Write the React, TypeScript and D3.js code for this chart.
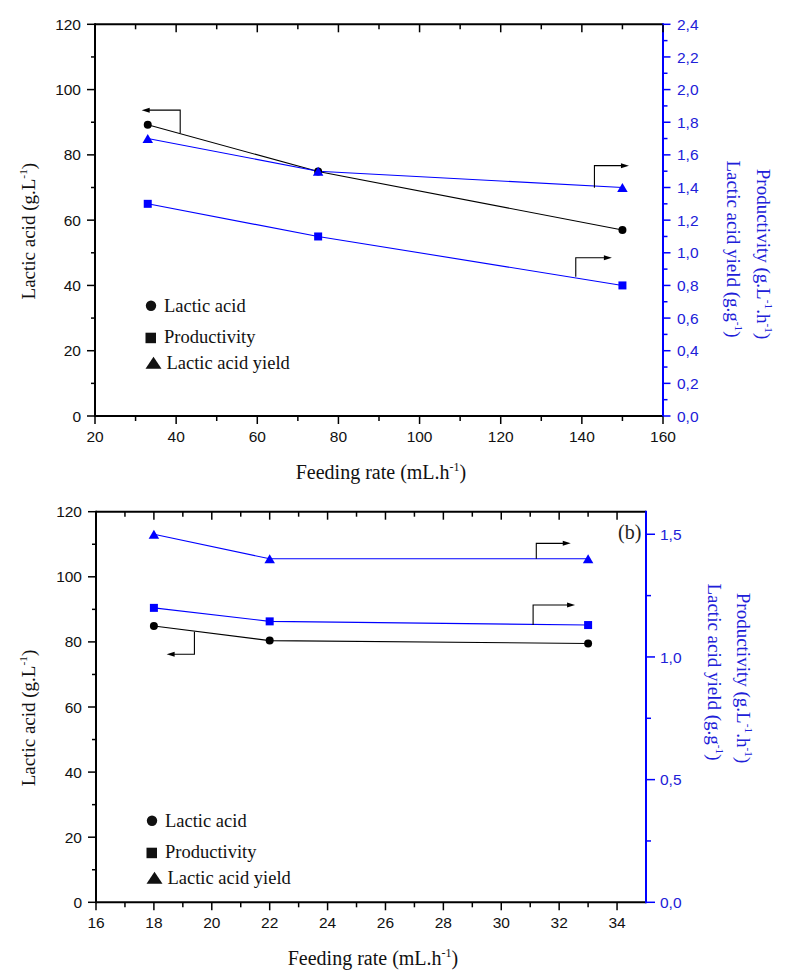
import React from "react";
import * as d3 from "d3";

// ---------- data ----------
const topFeed = [33, 75, 150];
const topLactic = [89.2, 74.9, 57];
const topProductivity = [1.3, 1.1, 0.8];
const topYield = [1.7, 1.5, 1.4];

const botFeed = [18, 22, 33];
const botLactic = [84.9, 80.4, 79.5];
const botProductivity = [1.2, 1.145, 1.13];
const botYield = [1.5, 1.4, 1.4];

const topXTicks = [20, 40, 60, 80, 100, 120, 140, 160];
const topXMinor = [30, 50, 70, 90, 110, 130, 150];
const leftTicks = [0, 20, 40, 60, 80, 100, 120];
const leftMinor = [10, 30, 50, 70, 90, 110];
const topRightTicks = [0, 0.2, 0.4, 0.6, 0.8, 1.0, 1.2, 1.4, 1.6, 1.8, 2.0, 2.2, 2.4];
const topRightMinor = [0.1, 0.3, 0.5, 0.7, 0.9, 1.1, 1.3, 1.5, 1.7, 1.9, 2.1, 2.3];

const botXTicks = [16, 18, 20, 22, 24, 26, 28, 30, 32, 34];
const botXMinor = [17, 19, 21, 23, 25, 27, 29, 31, 33];
const botRightTicks = [0, 0.5, 1.0, 1.5];
const botRightMinor = [0.25, 0.75, 1.25];

const legendLabels = ["Lactic acid", "Productivity", "Lactic acid yield"];

// annotation arrows (data units): vertical at x from y0 (on line) to y1, then horizontal to tip
type Arrow = { axis: "left" | "right"; x: number; y0: number; y1: number; tip: number };
const topArrows: Arrow[] = [
  { axis: "left", x: 41, y0: 86.6, y1: 93.7, tip: 31.5 },
  { axis: "right", x: 143.1, y0: 1.399, y1: 1.534, tip: 151.6 },
  { axis: "right", x: 138.5, y0: 0.853, y1: 0.97, tip: 147.4 },
];
const botArrows: Arrow[] = [
  { axis: "left", x: 19.4, y0: 83.1, y1: 76.2, tip: 18.44 },
  { axis: "right", x: 31.21, y0: 1.4, y1: 1.463, tip: 32.4 },
  { axis: "right", x: 31.1, y0: 1.13, y1: 1.212, tip: 32.55 },
];

// ---------- style ----------
const BLUE = "#0000ff";
const BLUE_TEXT = "#2020d8";
const SERIF = "'Liberation Serif','Times New Roman',serif";
const SANS = "'Liberation Sans',Arial,sans-serif";

type Part = { t: string; sup?: boolean };

function RichText({ parts, size }: { parts: Part[]; size: number }) {
  const out: React.ReactNode[] = [];
  parts.forEach((p, i) => {
    if (p.sup) {
      out.push(
        <tspan key={i} dy={-size * 0.42} fontSize={size * 0.6}>
          {p.t}
        </tspan>
      );
    } else {
      const prevSup = i > 0 && parts[i - 1].sup;
      out.push(
        <tspan key={i} dy={prevSup ? size * 0.42 : 0}>
          {p.t}
        </tspan>
      );
    }
  });
  return <>{out}</>;
}

const leftTitle: Part[] = [{ t: "Lactic acid (g.L" }, { t: "-1", sup: true }, { t: ")" }];
const xTitle: Part[] = [{ t: "Feeding rate (mL.h" }, { t: "-1", sup: true }, { t: ")" }];
const prodTitle: Part[] = [
  { t: "Productivity (g.L" },
  { t: "-1", sup: true },
  { t: ".h" },
  { t: "-1", sup: true },
  { t: ")" },
];
const yieldTitle: Part[] = [{ t: "Lactic acid yield (g.g" }, { t: "-1", sup: true }, { t: ")" }];

type PanelProps = {
  left: number;
  right: number;
  top: number;
  bottom: number;
  xDomain: [number, number];
  xTicks: number[];
  xMinor: number[];
  rightDomain: [number, number];
  rightTicks: number[];
  rightMinor: number[];
  rightMajorLen: number;
  rightMinorLen: number;
  feed: number[];
  lactic: number[];
  prod: number[];
  yld: number[];
  arrows: Arrow[];
  legendBase: number;
  prodTitleX: number;
  yieldTitleX: number;
  prodTitleCY: number;
  yieldTitleCY: number;
  tag?: string;
};

function Panel(p: PanelProps) {
  const x = d3.scaleLinear().domain(p.xDomain).range([p.left, p.right]);
  const yL = d3.scaleLinear().domain([0, 120]).range([p.bottom, p.top]);
  const yR = d3.scaleLinear().domain(p.rightDomain).range([p.bottom, p.top]);
  const fmtR = (v: number) => d3.format(".1f")(v).replace(".", ",");

  const lineL = d3
    .line<number>()
    .x((_, i) => x(p.feed[i]))
    .y((d) => yL(d));
  const lineR = d3
    .line<number>()
    .x((_, i) => x(p.feed[i]))
    .y((d) => yR(d));

  const tri = (cx: number, cy: number, w: number, h: number) =>
    `${cx - w / 2},${cy + h / 2} ${cx + w / 2},${cy + h / 2} ${cx},${cy - h / 2}`;

  const cy = (p.top + p.bottom) / 2;
  const legX = p.left + 56;
  const legRows = [0, 31, 57];

  return (
    <g>
      {/* data lines */}
      <path d={lineL(p.lactic) || ""} fill="none" stroke="#000" strokeWidth={1.1} />
      <path d={lineR(p.prod) || ""} fill="none" stroke={BLUE} strokeWidth={1.1} />
      <path d={lineR(p.yld) || ""} fill="none" stroke={BLUE} strokeWidth={1.1} />

      {/* markers */}
      {p.feed.map((f, i) => (
        <circle key={"c" + i} cx={x(f)} cy={yL(p.lactic[i])} r={4} fill="#000" />
      ))}
      {p.feed.map((f, i) => (
        <g key={"m" + i}>
          <rect x={x(f) - 4} y={yR(p.prod[i]) - 4} width={8} height={8} fill={BLUE} />
          <polygon points={tri(x(f), yR(p.yld[i]), 10.5, 9)} fill={BLUE} />
        </g>
      ))}

      {/* arrows */}
      {p.arrows.map((a, i) => {
        const ys = a.axis === "left" ? yL : yR;
        const ax = x(a.x);
        const ay0 = ys(a.y0);
        const ay1 = ys(a.y1);
        const tx = x(a.tip);
        const dir = tx > ax ? 1 : -1;
        return (
          <g key={"a" + i}>
            <path
              d={`M${ax},${ay0}V${ay1}H${tx - dir * 6}`}
              fill="none"
              stroke="#000"
              strokeWidth={1.1}
            />
            <polygon
              points={`${tx},${ay1} ${tx - dir * 8},${ay1 - 2.5} ${tx - dir * 8},${ay1 + 2.5}`}
              fill="#000"
            />
          </g>
        );
      })}

      {/* frame */}
      <line x1={p.left} x2={p.right} y1={p.top} y2={p.top} stroke="#000" strokeWidth={2} />
      <line x1={p.left} x2={p.right} y1={p.bottom} y2={p.bottom} stroke="#000" strokeWidth={2} />
      <line x1={p.left} x2={p.left} y1={p.top - 1} y2={p.bottom + 1} stroke="#000" strokeWidth={2} />
      <line x1={p.right} x2={p.right} y1={p.top - 1} y2={p.bottom + 1} stroke={BLUE} strokeWidth={2} />

      {/* x ticks bottom (outward) and top (inward) */}
      {p.xTicks.map((t) => (
        <g key={"xt" + t}>
          <line x1={x(t)} x2={x(t)} y1={p.bottom} y2={p.bottom + 8} stroke="#000" strokeWidth={1.5} />
          {t !== p.xDomain[0] && (
            <line x1={x(t)} x2={x(t)} y1={p.top} y2={p.top + 8} stroke="#000" strokeWidth={1.5} />
          )}
          <text
            x={x(t)}
            y={p.bottom + 26}
            textAnchor="middle"
            fontFamily={SANS}
            fontSize={15.5}
            fill="#111"
          >
            {t}
          </text>
        </g>
      ))}
      {p.xMinor.map((t) => (
        <g key={"xm" + t}>
          <line x1={x(t)} x2={x(t)} y1={p.bottom} y2={p.bottom + 5} stroke="#000" strokeWidth={1.5} />
          <line x1={x(t)} x2={x(t)} y1={p.top} y2={p.top + 5} stroke="#000" strokeWidth={1.5} />
        </g>
      ))}

      {/* left ticks */}
      {leftTicks.map((t) => (
        <g key={"lt" + t}>
          <line x1={p.left - 8} x2={p.left} y1={yL(t)} y2={yL(t)} stroke="#000" strokeWidth={1.5} />
          <text
            x={p.left - 14}
            y={yL(t)}
            dy="0.36em"
            textAnchor="end"
            fontFamily={SANS}
            fontSize={15.5}
            fill="#111"
          >
            {t}
          </text>
        </g>
      ))}
      {leftMinor.map((t) => (
        <line key={"lm" + t} x1={p.left - 4} x2={p.left} y1={yL(t)} y2={yL(t)} stroke="#000" strokeWidth={1.5} />
      ))}

      {/* right ticks */}
      {p.rightTicks.map((t) => (
        <g key={"rt" + t}>
          <line
            x1={p.right}
            x2={p.right + p.rightMajorLen}
            y1={yR(t)}
            y2={yR(t)}
            stroke={BLUE}
            strokeWidth={1.5}
          />
          <text
            x={p.right + 14}
            y={yR(t)}
            dy="0.36em"
            textAnchor="start"
            fontFamily={SANS}
            fontSize={15.5}
            fill={BLUE_TEXT}
          >
            {fmtR(t)}
          </text>
        </g>
      ))}
      {p.rightMinor.map((t) => (
        <line
          key={"rm" + t}
          x1={p.right}
          x2={p.right + p.rightMinorLen}
          y1={yR(t)}
          y2={yR(t)}
          stroke={BLUE}
          strokeWidth={1.5}
        />
      ))}

      {/* axis titles */}
      <text
        transform={`translate(35,${cy + 11}) rotate(-90)`}
        textAnchor="middle"
        fontFamily={SERIF}
        fontSize={19}
        fill="#111"
      >
        <RichText parts={leftTitle} size={19} />
      </text>
      <text
        x={(p.left + p.right) / 2 + 2}
        y={p.bottom + 63}
        textAnchor="middle"
        fontFamily={SERIF}
        fontSize={20}
        fill="#111"
      >
        <RichText parts={xTitle} size={20} />
      </text>
      <text
        transform={`translate(${p.prodTitleX},${p.prodTitleCY}) rotate(90)`}
        textAnchor="middle"
        fontFamily={SERIF}
        fontSize={19}
        fill={BLUE_TEXT}
      >
        <RichText parts={prodTitle} size={19} />
      </text>
      <text
        transform={`translate(${p.yieldTitleX},${p.yieldTitleCY}) rotate(90)`}
        textAnchor="middle"
        fontFamily={SERIF}
        fontSize={19}
        fill={BLUE_TEXT}
      >
        <RichText parts={yieldTitle} size={19} />
      </text>

      {/* legend */}
      {legendLabels.map((lab, i) => {
        const by = p.legendBase + legRows[i];
        return (
          <g key={"lg" + i}>
            {i === 0 && <circle cx={legX} cy={by - 6} r={5.2} fill="#111" />}
            {i === 1 && <rect x={legX - 5.5} y={by - 10} width={10.5} height={10.5} fill="#111" />}
            {i === 2 && <polygon points={tri(legX + 2.5, by - 6, 16, 12)} fill="#111" />}
            <text x={legX + 13 + (i === 2 ? 2.5 : 0)} y={by} fontFamily={SERIF} fontSize={18.5} fill="#111">
              {lab}
            </text>
          </g>
        );
      })}

      {p.tag && (
        <text x={p.right - 28} y={p.top + 27} fontFamily={SERIF} fontSize={20} fill="#222">
          {p.tag}
        </text>
      )}
    </g>
  );
}

export default function App() {
  return (
    <svg
      width={787}
      height={973}
      viewBox="0 0 787 973"
      style={{ position: "absolute", left: 0, top: 0, background: "#fff" }}
    >
      <rect x={0} y={0} width={787} height={973} fill="#fff" />
      <Panel
        left={95}
        right={663}
        top={24.3}
        bottom={416}
        xDomain={[20, 160]}
        xTicks={topXTicks}
        xMinor={topXMinor}
        rightDomain={[0, 2.4]}
        rightTicks={topRightTicks}
        rightMinor={topRightMinor}
        rightMajorLen={7.5}
        rightMinorLen={4.5}
        feed={topFeed}
        lactic={topLactic}
        prod={topProductivity}
        yld={topYield}
        arrows={topArrows}
        legendBase={311.7}
        prodTitleX={757}
        yieldTitleX={727}
        prodTitleCY={254}
        yieldTitleCY={249}
      />
      <Panel
        left={96}
        right={646}
        top={511.7}
        bottom={902.3}
        xDomain={[16, 35]}
        xTicks={botXTicks}
        xMinor={botXMinor}
        rightDomain={[0, 1.592]}
        rightTicks={botRightTicks}
        rightMinor={botRightMinor}
        rightMajorLen={9}
        rightMinorLen={5}
        feed={botFeed}
        lactic={botLactic}
        prod={botProductivity}
        yld={botYield}
        arrows={botArrows}
        legendBase={826.7}
        prodTitleX={737}
        yieldTitleX={708}
        prodTitleCY={678}
        yieldTitleCY={672}
        tag="(b)"
      />
    </svg>
  );
}
